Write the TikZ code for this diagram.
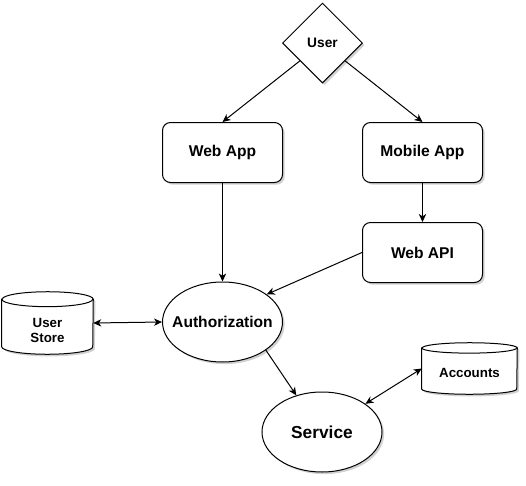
\documentclass[tikz,border=0pt]{standalone}
\usepackage{fontspec}
\setmainfont{Liberation Sans}
\usetikzlibrary{shapes.geometric,arrows.meta,shadows,calc}
\tikzset{
  shad/.style={drop shadow={shadow xshift=1.6pt, shadow yshift=-1.6pt, fill=black, opacity=0.18}},
  base/.style={draw=black, line width=0.75pt, fill=white, shad, font=\bfseries\fontsize{11.7}{14}\selectfont, inner sep=0pt},
  box/.style={base, rectangle, rounded corners=6pt, minimum width=90pt, minimum height=45pt},
  dia/.style={base, diamond, aspect=1, minimum width=60pt, minimum height=60pt, font=\bfseries\fontsize{10.3}{12}\selectfont},
  ell/.style={base, ellipse, minimum width=90pt, minimum height=60pt},
  cylbox/.style={rectangle, inner sep=0pt},
  cyltext/.style={font=\bfseries\fontsize{10}{11.3}\selectfont, align=center, inner sep=0pt},
  conn/.style={line width=0.75pt, -{Stealth[length=6pt, width=5.5pt, inset=1.8pt]}},
  bconn/.style={line width=0.75pt, {Stealth[length=6pt, width=5.5pt, inset=1.8pt]}-{Stealth[length=6pt, width=5.5pt, inset=1.8pt]}},
}
\begin{document}
\begin{tikzpicture}[x=0.75pt, y=-0.75pt]
\fill[white] (0,0) rectangle (526,486);
\useasboundingbox (0,0) rectangle (526,486);

\node[dia] (user) at (322.5,43) {\makebox[0pt]{User}};
\node[box] (webapp) at (222.5,152.5) {Web App};
\node[box] (mobile) at (422.5,152.5) {Mobile App};
\node[box] (webapi) at (422.5,252.5) {Web API};
\node[ell] (auth) at (222.5,322) {\makebox[0pt]{Authorization}};
\node[ell, font=\bfseries\fontsize{13}{15}\selectfont] (service) at (322,432) {\makebox[0pt]{Service}};

% User Store cylinder
\node[cylbox, minimum width=68.25pt, minimum height=46.5pt] (us) at (47.5,323) {};
\draw[line width=0.75pt, fill=white, shad]
  ([yshift=-5.6pt]us.north west) -- ([yshift=5.6pt]us.south west)
  arc[start angle=180, end angle=360, x radius=34.125pt, y radius=5.6pt]
  -- ([yshift=-5.6pt]us.north east)
  arc[start angle=0, end angle=180, x radius=34.125pt, y radius=5.6pt] -- cycle;
\draw[line width=0.75pt] ([yshift=-5.6pt]us.north west)
  arc[start angle=180, end angle=360, x radius=34.125pt, y radius=5.6pt];
\node[cyltext] (ustext) at ([yshift=-5.4pt]us.center) {User\\Store};

% Accounts cylinder
\node[cylbox, minimum width=71.25pt, minimum height=38.25pt] (acc) at (469.5,368.5) {};
\draw[line width=0.75pt, fill=white, shad]
  ([yshift=-3.9pt]acc.north west) -- ([yshift=3.9pt]acc.south west)
  arc[start angle=180, end angle=360, x radius=35.625pt, y radius=3.9pt]
  -- ([yshift=-3.9pt]acc.north east)
  arc[start angle=0, end angle=180, x radius=35.625pt, y radius=3.9pt] -- cycle;
\draw[line width=0.75pt] ([yshift=-3.9pt]acc.north west)
  arc[start angle=180, end angle=360, x radius=35.625pt, y radius=3.9pt];
\node[cyltext] (acctext) at ([yshift=-3.6pt]acc.center) {Accounts};

% connectors
\draw[conn] (user) -- (webapp.north);
\draw[conn] (user) -- (mobile.north);
\draw[conn] (webapp.south) -- (auth.north);
\draw[conn] (mobile.south) -- (webapi.north);
\draw[conn] (webapi.west) -- (auth.32);
\draw[bconn] (us.east) -- (auth.west);
\draw[conn] (auth.-33) -- (service.125);
\draw[bconn] (service.33) -- (acc.west);
\end{tikzpicture}
\end{document}
